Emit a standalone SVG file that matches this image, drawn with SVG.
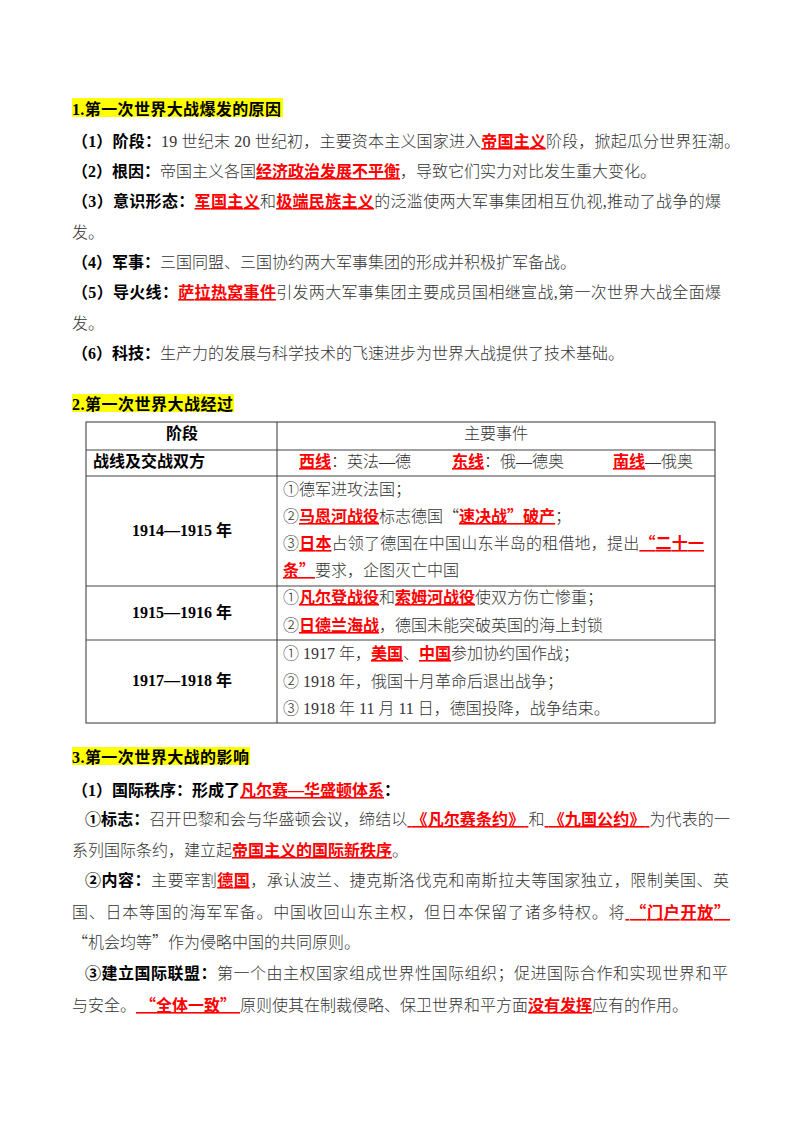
<svg xmlns="http://www.w3.org/2000/svg" width="800" height="1132" viewBox="0 0 800 1132">
<style>
.t{font-family:"Liberation Serif","Noto Sans CJK SC",serif;font-size:16px;fill:#333;font-weight:300}
.b{font-weight:bold;fill:#000}
.r{font-weight:bold;fill:#f00;text-decoration:underline}
.q{font-family:"Noto Sans CJK SC",sans-serif}
.c{text-anchor:middle}
.hl{fill:#ffff00}
.grid{stroke:#444;stroke-width:1.1;fill:none}
</style>
<rect width="800" height="1132" fill="#fff"/>
<g id="sec1">
<rect class="hl" x="72" y="98" width="211" height="19"/>
<text class="t b" x="72" y="115" textLength="209">1.第一次世界大战爆发的原因</text>
<text class="t" x="72" y="147" textLength="668"><tspan class="b">（1）阶段：</tspan>19 世纪末 20 世纪初，主要资本主义国家进入<tspan class="r">帝国主义</tspan>阶段，掀起瓜分世界狂潮。</text>
<text class="t" x="72" y="177"><tspan class="b">（2）根因：</tspan>帝国主义各国<tspan class="r">经济政治发展不平衡</tspan>，导致它们实力对比发生重大变化。</text>
<text class="t" x="72" y="207" textLength="649"><tspan class="b">（3）意识形态：</tspan><tspan class="r">军国主义</tspan>和<tspan class="r">极端民族主义</tspan>的泛滥使两大军事集团相互仇视,推动了战争的爆</text>
<text class="t" x="72" y="238">发。</text>
<text class="t" x="72" y="268"><tspan class="b">（4）军事：</tspan>三国同盟、三国协约两大军事集团的形成并积极扩军备战。</text>
<text class="t" x="72" y="298" textLength="649"><tspan class="b">（5）导火线：</tspan><tspan class="r">萨拉热窝事件</tspan>引发两大军事集团主要成员国相继宣战,第一次世界大战全面爆</text>
<text class="t" x="72" y="329">发。</text>
<text class="t" x="72" y="359"><tspan class="b">（6）科技：</tspan>生产力的发展与科学技术的飞速进步为世界大战提供了技术基础。</text>
</g>
<g id="sec2">
<rect class="hl" x="72" y="394" width="162" height="18"/>
<text class="t b" x="72" y="410" textLength="161">2.第一次世界大战经过</text>
<g id="table-grid">
<rect class="grid" x="86" y="422" width="629" height="301"/>
<line class="grid" x1="277" y1="422" x2="277" y2="723"/>
<line class="grid" x1="86" y1="450" x2="715" y2="450"/>
<line class="grid" x1="86" y1="476" x2="715" y2="476"/>
<line class="grid" x1="86" y1="586" x2="715" y2="586"/>
<line class="grid" x1="86" y1="640" x2="715" y2="640"/>
</g>
<g id="row-header">
<text class="t b c" x="182" y="439">阶段</text>
<text class="t c" x="496" y="439">主要事件</text>
</g>
<g id="row-fronts">
<text class="t b" x="93" y="467">战线及交战双方</text>
<text class="t" x="299" y="467"><tspan class="r">西线</tspan>：英法—德</text>
<text class="t" x="452" y="467"><tspan class="r">东线</tspan>：俄—德奥</text>
<text class="t" x="613" y="467"><tspan class="r">南线</tspan>—俄奥</text>
</g>
<g id="row-1914">
<text class="t b c" x="182" y="536">1914—1915 年</text>
<text class="t" x="283" y="495">①德军进攻法国；</text>
<text class="t" x="283" y="522">②<tspan class="r">马恩河战役</tspan>标志德国<tspan class="q">“</tspan><tspan class="r">速决战<tspan class="q">”</tspan>破产</tspan>；</text>
<text class="t" x="283" y="549" textLength="421">③<tspan class="r">日本</tspan>占领了德国在中国山东半岛的租借地，提出<tspan class="r"><tspan class="q">“</tspan>二十一</tspan></text>
<text class="t" x="283" y="576"><tspan class="r">条<tspan class="q">”</tspan></tspan>要求，企图灭亡中国</text>
</g>
<g id="row-1915">
<text class="t b c" x="182" y="618">1915—1916 年</text>
<text class="t" x="283" y="603">①<tspan class="r">凡尔登战役</tspan>和<tspan class="r">索姆河战役</tspan>使双方伤亡惨重；</text>
<text class="t" x="283" y="631">②<tspan class="r">日德兰海战</tspan>，德国未能突破英国的海上封锁</text>
</g>
<g id="row-1917">
<text class="t b c" x="182" y="686">1917—1918 年</text>
<text class="t" x="283" y="659">① 1917 年，<tspan class="r">美国</tspan>、<tspan class="r">中国</tspan>参加协约国作战；</text>
<text class="t" x="283" y="687">② 1918 年，俄国十月革命后退出战争；</text>
<text class="t" x="283" y="714">③ 1918 年 11 月 11 日，德国投降，战争结束。</text>
</g>
</g>
<g id="sec3">
<rect class="hl" x="72" y="747" width="178" height="18"/>
<text class="t b" x="72" y="763" textLength="177">3.第一次世界大战的影响</text>
<text class="t" x="72" y="796"><tspan class="b">（1）国际秩序：形成了</tspan><tspan class="r">凡尔赛—华盛顿体系</tspan><tspan class="b">：</tspan></text>
<text class="t" x="85" y="825" textLength="645"><tspan class="b">①标志：</tspan>召开巴黎和会与华盛顿会议，缔结以<tspan class="r"> 《凡尔赛条约》 </tspan>和<tspan class="r"> 《九国公约》 </tspan>为代表的一</text>
<text class="t" x="72" y="856">系列国际条约，建立起<tspan class="r">帝国主义的国际新秩序</tspan>。</text>
<text class="t" x="85" y="886" textLength="644"><tspan class="b">②内容：</tspan>主要宰割<tspan class="r">德国</tspan>，承认波兰、捷克斯洛伐克和南斯拉夫等国家独立，限制美国、英</text>
<text class="t" x="72" y="918" textLength="658">国、日本等国的海军军备。中国收回山东主权，但日本保留了诸多特权。将<tspan class="r"> <tspan class="q">“</tspan>门户开放<tspan class="q">”</tspan> </tspan></text>
<text class="t" x="72" y="948"><tspan class="q">“</tspan>机会均等<tspan class="q">”</tspan>作为侵略中国的共同原则。</text>
<text class="t" x="85" y="979" textLength="643"><tspan class="b">③建立国际联盟：</tspan>第一个由主权国家组成世界性国际组织；促进国际合作和实现世界和平</text>
<text class="t" x="72" y="1011">与安全。<tspan class="r"> <tspan class="q">“</tspan>全体一致<tspan class="q">”</tspan> </tspan>原则使其在制裁侵略、保卫世界和平方面<tspan class="r">没有发挥</tspan>应有的作用。</text>
</g>
</svg>
